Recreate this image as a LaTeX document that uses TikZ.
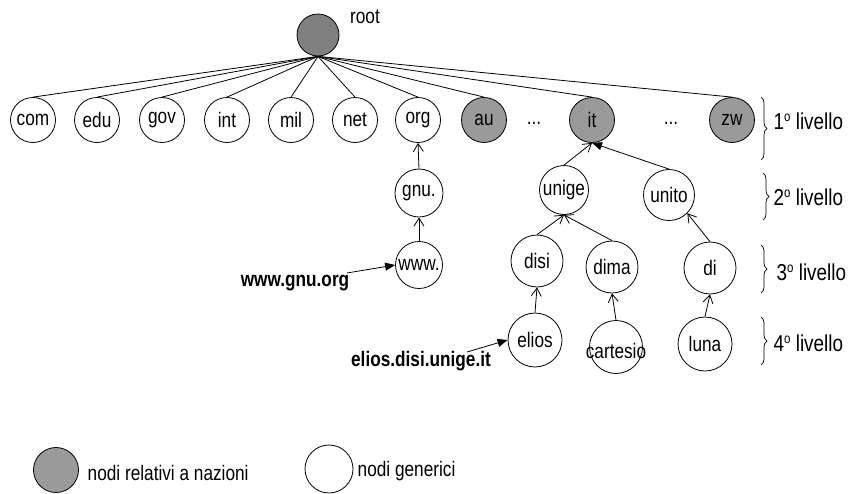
\documentclass[tikz,border=0pt]{standalone}
\usepackage{fontspec}
\setmainfont[FakeStretch=0.82]{Liberation Sans}
\usetikzlibrary{arrows.meta,decorations.pathreplacing}
\definecolor{rootgray}{HTML}{808080}
\definecolor{natgray}{HTML}{9A9A9A}
\newcommand{\ord}[1]{#1\raisebox{0.33em}{\fontsize{14}{14}\selectfont o}}
\begin{document}
\begin{tikzpicture}[x=1pt,y=-1pt,
  line width=0.8pt,
  every node/.style={font=\fontsize{21}{24}\selectfont},
  gen/.style={circle,draw,fill=white,inner sep=0pt,minimum size=#1},
  nat/.style={circle,draw,fill=natgray,inner sep=0pt,minimum size=#1},
  open/.style={-{Straight Barb[length=8pt,width=10pt,line width=0.8pt]}},
  solid tip/.style={-{Triangle[length=10pt,width=8pt]}},
  lvl/.style={anchor=west,font=\fontsize{23}{26}\selectfont},
  bold label/.style={font=\fontsize{21}{24}\selectfont\bfseries},
  bracebox/.style={decorate,decoration={brace,amplitude=6pt},line width=0.7pt}]
\useasboundingbox (0,0) rectangle (852,493);

% root
\node[circle,draw,fill=rootgray,inner sep=0pt,minimum size=42] (root) at (318,35) {};
\node (roottxt) at (365,17) {root};

% level 1
\node[gen=45] (com) at (33,120) {com};
\node[gen=45] (edu) at (97,120) {edu};
\node[gen=45] (gov) at (162,120) {gov};
\node[gen=45] (int) at (227,120) {int};
\node[gen=45] (mil) at (291,120) {mil};
\node[gen=45] (net) at (355,120) {net};
\node[gen=45] (org) at (418,120) {org};
\node[nat=45] (au) at (484,120) {au};
\node (dotsA) at (534,123) {...};
\node[nat=45] (it) at (592,120) {it};
\node (dotsB) at (671,123) {...};
\node[nat=45] (zw) at (732,120) {zw};

\foreach \n in {com,edu,gov,int,mil,net,org,au,it,zw}
  \draw (root.south) -- (\n.north);

% level 2
\node[gen=48] (gnu) at (419,193) {gnu.};
\node[gen=49] (unige) at (564,190) {unige};
\node[gen=51] (unito) at (669,195) {unito};

% level 3
\node[gen=47] (www) at (419,265) {www.};
\node[gen=52] (disi) at (537,261) {disi};
\node[gen=52] (dima) at (612,267) {dima};
\node[gen=52] (di) at (710,268) {di};

% level 4
\node[gen=54] (elios) at (535,340) {elios};
\node[gen=53] (cartesio) at (616,347) {};
\node (cartesiotxt) at (616,351) {cartesio};
\node[gen=54] (luna) at (705,344) {luna};

% arrows
\draw[open] (www.north) -- (gnu.south);
\draw[open] (gnu.north) -- (org.south);
\draw[open] (elios.north) -- (disi.south);
\draw[open] (cartesio.north) -- (dima.south);
\draw[open] (luna.north) -- (di.south);
\draw[open] (disi.north) -- (unige.south);
\draw[open] (dima.north) -- (unige.south);
\draw[open] (di.north) -- (unito.-45);
\draw[open] (unige.north) -- (it.south);
\draw[solid tip] (unito.north) -- (it.south);

% name labels
\node[bold label] (wwwlbl) at (295,283) {www.gnu.org};
\coordinate (wA) at (347,273);
\draw[solid tip] (wA) -- (www.west);
\node[bold label] (elioslbl) at (421,361) {elios.disi.unige.it};
\coordinate (eA) at (467,352);
\draw[solid tip] (eA) -- (elios.west);

% level braces
\draw[bracebox] (761,97) -- (761,160);
\node[lvl] (l1) at (770,121) {\ord{1} livello};
\draw[bracebox] (763,173) -- (763,220);
\node[lvl] (l2) at (770,197) {\ord{2} livello};
\draw[bracebox] (761,245) -- (761,293);
\node[lvl] (l3) at (773,272) {\ord{3} livello};
\draw[bracebox] (761,317) -- (761,365);
\node[lvl] (l4) at (770,343) {\ord{4} livello};

% legend
\node[nat=45] (legnat) at (56,470) {};
\node[anchor=west] (legnattxt) at (84,473) {nodi relativi a nazioni};
\node[gen=48] (leggen) at (329,469) {};
\node[anchor=west] (leggentxt) at (354,471) {nodi generici};
\end{tikzpicture}
\end{document}
